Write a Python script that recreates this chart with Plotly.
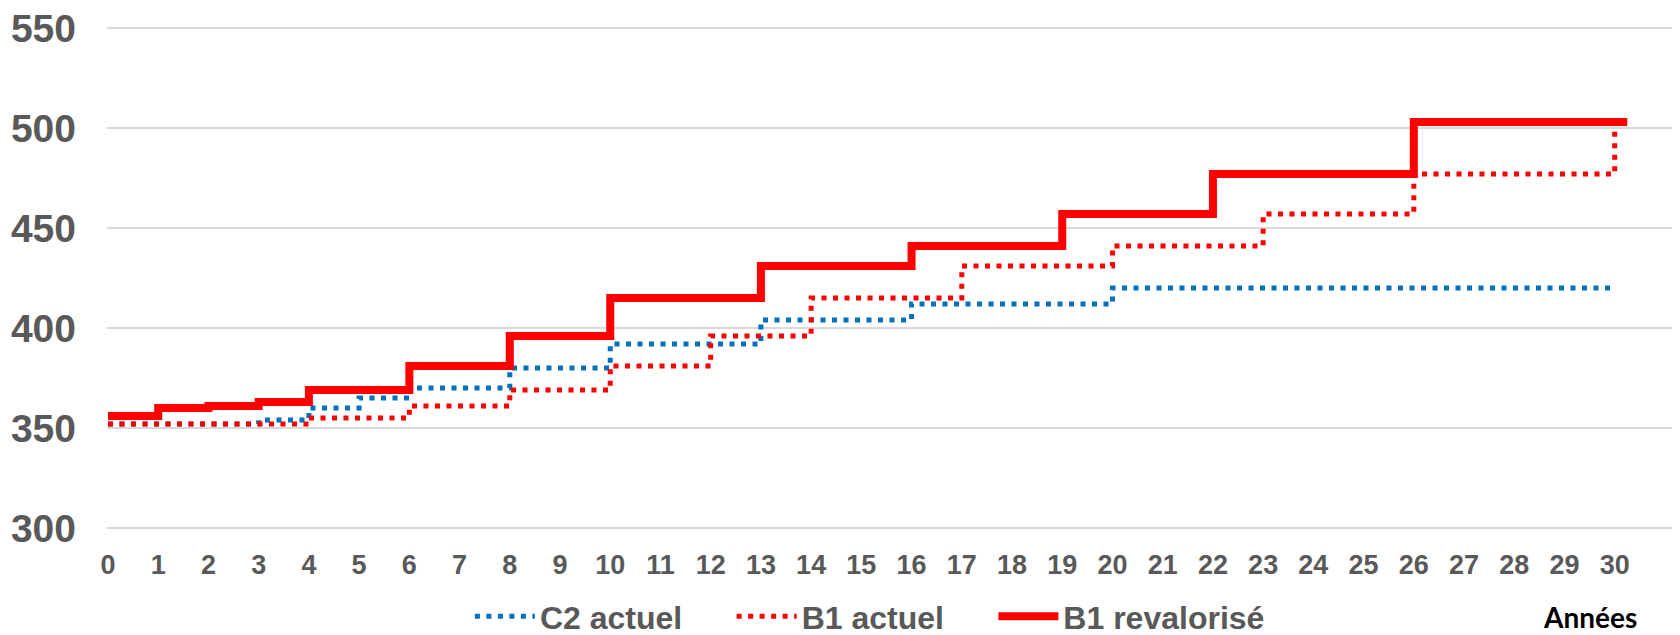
import plotly.graph_objects as go

years = list(range(31))
tick_labels = [str(y) for y in years]

c2_actuel = [352, 352, 352, 354, 360, 365, 370, 370, 380, 380,
             392, 392, 392, 404, 404, 404, 412, 412, 412, 412,
             420, 420, 420, 420, 420, 420, 420, 420, 420, 420, 420]

b1_actuel = [352, 352, 352, 352, 355, 355, 361, 361, 369, 369,
             381, 381, 396, 396, 415, 415, 415, 431, 431, 431,
             441, 441, 441, 457, 457, 457, 477, 477, 477, 477, 503]

years_reval = years + [30.25]
b1_revalorise = [356, 360, 361, 363, 369, 369, 381, 381, 396, 396,
                 415, 415, 415, 431, 431, 431, 441, 441, 441, 457,
                 457, 457, 477, 477, 477, 477, 503, 503, 503, 503, 503, 503]

y_ticks = [300, 350, 400, 450, 500, 550]

BLUE = "#0070C0"
RED = "#FF0000"
GRAY = "#595959"
FONT = "Liberation Sans, Arial, sans-serif"
PAD = "\u00a0" * 5  # spacing between legend entries

fig = go.Figure()
fig.add_trace(go.Scatter(x=years, y=c2_actuel, name="C2 actuel" + PAD, mode="lines",
                         line=dict(color=BLUE, width=5, dash="5px,6.5px", shape="hv")))
fig.add_trace(go.Scatter(x=years, y=b1_actuel, name="B1 actuel" + PAD, mode="lines",
                         line=dict(color=RED, width=5, dash="5px,6.5px", shape="hv")))
fig.add_trace(go.Scatter(x=years_reval, y=b1_revalorise, name="B1 revalorisé", mode="lines",
                         line=dict(color=RED, width=8, shape="hv")))

# The page has an 8px body margin, so the figure is sized 1672x627 to fill the window.
fig.update_layout(
    width=1672, height=627,
    margin=dict(l=99, r=0, t=16, b=103, autoexpand=False),
    paper_bgcolor="white", plot_bgcolor="white",
    showlegend=True,
    legend=dict(orientation="h", xanchor="center", yanchor="middle",
                x=0.485, y=-0.166,
                font=dict(family=FONT, size=32, color=GRAY, weight="bold"),
                itemwidth=60),
    xaxis=dict(range=[-0.02, 31.3], tickmode="array", tickvals=years, ticktext=tick_labels,
               showgrid=False, zeroline=False, showline=False, ticks="",
               automargin=False, ticklabeloverflow="allow",
               tickfont=dict(family=FONT, size=27, color=GRAY, weight="bold"),
               ticklabelstandoff=14),
    yaxis=dict(range=[298, 552], tickmode="array", tickvals=y_ticks,
               showgrid=True, gridcolor="#D9D9D9", gridwidth=1.5,
               zeroline=False, showline=False, ticks="",
               automargin=False, ticklabeloverflow="allow",
               tickfont=dict(family=FONT, size=39, color=GRAY, weight="bold"),
               ticklabelstandoff=30),
    annotations=[dict(text="<b>Années</b>", xref="paper", yref="paper",
                      x=0.943, y=-0.168, xanchor="center", yanchor="middle",
                      showarrow=False,
                      font=dict(family="Lato, Open Sans, sans-serif", size=28, color="black"))],
)

fig.write_html("out.html")
